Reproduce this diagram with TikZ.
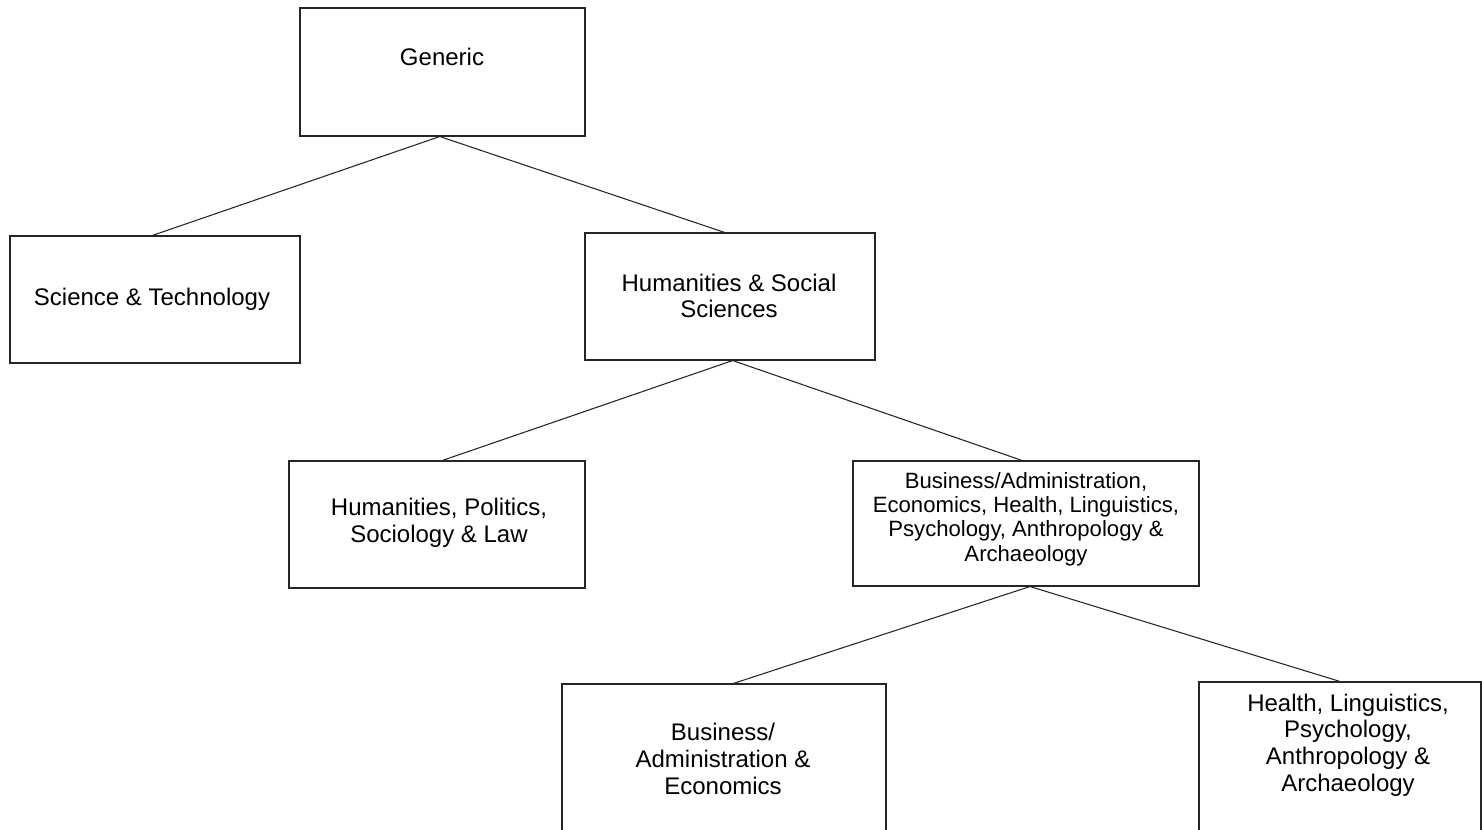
\documentclass[tikz,border=0pt]{standalone}
\usepackage{fontspec}
\setmainfont{Liberation Sans}
\usetikzlibrary{fit}
\begin{document}
\begin{tikzpicture}[x=0.75pt,y=-0.75pt,
  box/.style={draw=black!85, line width=0.8pt, rectangle, inner sep=0pt},
  txt/.style={font=\fontsize{18}{20}\selectfont, align=center, inner sep=0pt},
  tight/.style={font=\fontsize{16.6}{18.3}\selectfont},
  link/.style={draw=black!85, line width=0.8pt}]
\useasboundingbox (0,0) rectangle (1482,830);
\clip (0,0) rectangle (1482,830);
% boxes
\node[box, fit={(300,8) (585,136)}] (gen) {};
\node[box, fit={(10,236) (300,363)}] (sci) {};
\node[box, fit={(585,233) (875,360)}] (hss) {};
\node[box, fit={(289,461) (585,588)}] (hpsl) {};
\node[box, fit={(853,461) (1199,586)}] (bus) {};
\node[box, fit={(562,684) (886,870)}] (be) {};
\node[box, fit={(1199,682) (1481,870)}] (hea) {};
% texts
\node[txt] (genT) at (442,57) {Generic};
\node[txt] (sciT) at (152,299) {Science \& Technology};
\node[txt] (hssT) at (729,296) {Humanities \& Social\\Sciences};
\node[txt] (hpslT) at (439,523) {Humanities, Politics,\\Sociology \& Law};
\node[txt, tight] (busT) at (1026,519) {Business/Administration,\\Economics, Health, Linguistics,\\Psychology, Anthropology \&\\Archaeology};
\node[txt] (beT) at (723,759) {Business/\\Administration \&\\Economics};
\node[txt] (heaT) at (1348,745) {Health, Linguistics,\\Psychology,\\Anthropology \&\\Archaeology};
% connectors
\draw[link] ([xshift=-2pt]gen.south) -- ([xshift=-2pt]sci.north);
\draw[link] ([xshift=-2pt]gen.south) -- ([xshift=-4pt]hss.north);
\draw[link] ([xshift=2pt]hss.south) -- ([xshift=4pt]hpsl.north);
\draw[link] ([xshift=2pt]hss.south) -- ([xshift=-3pt]bus.north);
\draw[link] ([xshift=3pt]bus.south) -- ([xshift=7pt]be.north);
\draw[link] ([xshift=3pt]bus.south) -- (hea.north);
\end{tikzpicture}
\end{document}
